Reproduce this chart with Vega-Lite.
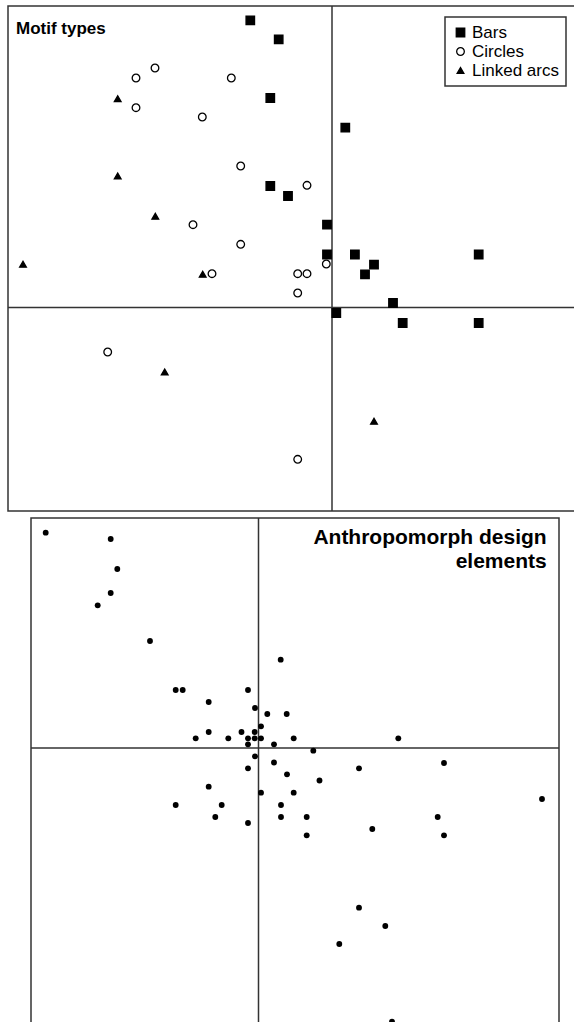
{
  "$schema": "https://vega.github.io/schema/vega-lite/v6.json",
  "padding": {"left": 6, "top": 4, "right": 0, "bottom": 0},
  "background": "white",
  "config": {
    "view": {"stroke": "#333", "strokeWidth": 1.5},
    "font": "Liberation Sans",
    "legend": {
      "orient": "top-right",
      "offset": 11,
      "strokeColor": "#333",
      "strokeWidth": 1.5,
      "fillColor": "white",
      "padding": 7,
      "labelFontSize": 17,
      "labelFont": "Liberation Sans",
      "labelColor": "black",
      "labelOffset": 3,
      "rowPadding": 1,
      "symbolStrokeColor": "black",
      "symbolStrokeWidth": 1.3
    }
  },
  "resolve": {"legend": {"shape": "independent", "fill": "independent", "size": "independent", "stroke": "independent"}},
  "vconcat": [
    {
      "width": 569,
      "height": 505,
      "layer": [
        {
          "data": {"values": [{}]},
          "mark": {"type": "rule", "color": "#333", "strokeWidth": 1.5},
          "encoding": {"x": {"datum": 0, "type": "quantitative", "scale": {"domain": [-3.24, 2.45], "nice": false, "zero": false}, "axis": null}}
        },
        {
          "data": {"values": [{}]},
          "mark": {"type": "rule", "color": "#333", "strokeWidth": 1.5},
          "encoding": {"y": {"datum": 0, "type": "quantitative", "scale": {"domain": [-2.035, 3.015], "nice": false, "zero": false}, "axis": null}}
        },
        {
          "data": {"values": [
            {"type": "Bars", "x": -0.817, "y": 2.872},
            {"type": "Bars", "x": -0.533, "y": 2.682},
            {"type": "Bars", "x": -0.617, "y": 2.095},
            {"type": "Bars", "x": 0.133, "y": 1.798},
            {"type": "Bars", "x": -0.617, "y": 1.215},
            {"type": "Bars", "x": -0.44, "y": 1.115},
            {"type": "Bars", "x": -0.05, "y": 0.828},
            {"type": "Bars", "x": -0.05, "y": 0.53},
            {"type": "Bars", "x": 0.229, "y": 0.53},
            {"type": "Bars", "x": 1.467, "y": 0.53},
            {"type": "Bars", "x": 0.42, "y": 0.428},
            {"type": "Bars", "x": 0.33, "y": 0.332},
            {"type": "Bars", "x": 0.61, "y": 0.045},
            {"type": "Bars", "x": 0.043, "y": -0.055},
            {"type": "Bars", "x": 0.707, "y": -0.155},
            {"type": "Bars", "x": 1.467, "y": -0.155},
            {"type": "Circles", "x": -1.77, "y": 2.395},
            {"type": "Circles", "x": -1.96, "y": 2.295},
            {"type": "Circles", "x": -1.007, "y": 2.295},
            {"type": "Circles", "x": -1.96, "y": 1.998},
            {"type": "Circles", "x": -1.297, "y": 1.905},
            {"type": "Circles", "x": -0.913, "y": 1.415},
            {"type": "Circles", "x": -0.25, "y": 1.222},
            {"type": "Circles", "x": -1.39, "y": 0.828},
            {"type": "Circles", "x": -0.913, "y": 0.632},
            {"type": "Circles", "x": -0.057, "y": 0.435},
            {"type": "Circles", "x": -1.2, "y": 0.338},
            {"type": "Circles", "x": -0.343, "y": 0.338},
            {"type": "Circles", "x": -0.25, "y": 0.338},
            {"type": "Circles", "x": -0.343, "y": 0.145},
            {"type": "Circles", "x": -2.243, "y": -0.445},
            {"type": "Circles", "x": -0.343, "y": -1.518},
            {"type": "Linked arcs", "x": -2.143, "y": 2.088},
            {"type": "Linked arcs", "x": -2.143, "y": 1.315},
            {"type": "Linked arcs", "x": -1.767, "y": 0.912},
            {"type": "Linked arcs", "x": -3.09, "y": 0.432},
            {"type": "Linked arcs", "x": -1.293, "y": 0.332},
            {"type": "Linked arcs", "x": -1.673, "y": -0.645},
            {"type": "Linked arcs", "x": 0.42, "y": -1.138}
          ]},
          "mark": {"type": "point", "filled": true, "strokeWidth": 1.3, "opacity": 1},
          "encoding": {
            "x": {"field": "x", "type": "quantitative", "scale": {"domain": [-3.24, 2.45], "nice": false, "zero": false}, "axis": null},
            "y": {"field": "y", "type": "quantitative", "scale": {"domain": [-2.035, 3.015], "nice": false, "zero": false}, "axis": null},
            "shape": {
              "field": "type", "type": "nominal", "title": null,
              "scale": {"domain": ["Bars", "Circles", "Linked arcs"], "range": ["square", "circle", "triangle-up"]},
              "legend": {"orient": "top-right", "offset": 11}
            },
            "fill": {
              "field": "type", "type": "nominal", "title": null,
              "scale": {"domain": ["Bars", "Circles", "Linked arcs"], "range": ["black", "white", "black"]},
              "legend": {"orient": "top-right", "offset": 11}
            },
            "stroke": {
              "field": "type", "type": "nominal", "title": null,
              "scale": {"domain": ["Bars", "Circles", "Linked arcs"], "range": ["black", "black", "black"]},
              "legend": {"orient": "top-right", "offset": 11}
            },
            "size": {
              "field": "type", "type": "nominal", "title": null,
              "scale": {"domain": ["Bars", "Circles", "Linked arcs"], "range": [72, 45, 145]},
              "legend": {"orient": "top-right", "offset": 11}
            }
          }
        },
        {
          "data": {"values": [{"label": "Motif types"}]},
          "mark": {"type": "text", "align": "left", "baseline": "alphabetic", "fontSize": 17, "fontWeight": "bold", "font": "Liberation Sans", "color": "black"},
          "encoding": {
            "x": {"datum": -3.16, "type": "quantitative", "scale": {"domain": [-3.24, 2.45], "nice": false, "zero": false}, "axis": null},
            "y": {"datum": 2.738, "type": "quantitative", "scale": {"domain": [-2.035, 3.015], "nice": false, "zero": false}, "axis": null},
            "text": {"field": "label"}
          }
        }
      ]
    },
    {
      "spacing": 15,
      "hconcat": [
        {
          "width": 5,
          "height": 5,
          "view": {"stroke": null},
          "data": {"values": [{}]},
          "mark": {"type": "point", "opacity": 0},
          "encoding": {}
        },
        {
          "width": 528,
          "height": 513,
          "layer": [
            {
              "data": {"values": [{}]},
              "mark": {"type": "rule", "color": "#333", "strokeWidth": 1.5},
              "encoding": {"x": {"datum": 0, "type": "quantitative", "scale": {"domain": [-2.275, 3.005], "nice": false, "zero": false}, "axis": null}}
            },
            {
              "data": {"values": [{}]},
              "mark": {"type": "rule", "color": "#333", "strokeWidth": 1.5},
              "encoding": {"y": {"datum": 0, "type": "quantitative", "scale": {"domain": [-2.83, 2.3], "nice": false, "zero": false}, "axis": null}}
            },
            {
              "data": {"values": [
                {"x": -2.128, "y": 2.153}, {"x": -1.478, "y": 2.09}, {"x": -1.412, "y": 1.79},
                {"x": -1.478, "y": 1.55}, {"x": -1.608, "y": 1.427}, {"x": -1.085, "y": 1.07},
                {"x": 0.222, "y": 0.883}, {"x": -0.828, "y": 0.58}, {"x": -0.758, "y": 0.58},
                {"x": -0.105, "y": 0.58}, {"x": -0.498, "y": 0.46}, {"x": -0.035, "y": 0.4},
                {"x": 0.088, "y": 0.34}, {"x": 0.282, "y": 0.34}, {"x": 0.025, "y": 0.217},
                {"x": -0.498, "y": 0.16}, {"x": -0.17, "y": 0.16}, {"x": -0.038, "y": 0.16},
                {"x": -0.628, "y": 0.097}, {"x": -0.302, "y": 0.097}, {"x": -0.105, "y": 0.097},
                {"x": -0.038, "y": 0.097}, {"x": 0.025, "y": 0.097}, {"x": 0.352, "y": 0.097},
                {"x": 1.398, "y": 0.097}, {"x": -0.105, "y": 0.037}, {"x": 0.155, "y": 0.037},
                {"x": 0.548, "y": -0.027}, {"x": -0.035, "y": -0.083}, {"x": 0.155, "y": -0.145},
                {"x": -0.105, "y": -0.203}, {"x": 1.005, "y": -0.203}, {"x": 1.855, "y": -0.15},
                {"x": 0.285, "y": -0.263}, {"x": 0.61, "y": -0.325}, {"x": -0.498, "y": -0.387},
                {"x": 0.025, "y": -0.447}, {"x": 0.352, "y": -0.447}, {"x": 2.835, "y": -0.51},
                {"x": -0.828, "y": -0.57}, {"x": -0.368, "y": -0.57}, {"x": 0.225, "y": -0.57},
                {"x": -0.432, "y": -0.69}, {"x": 0.225, "y": -0.69}, {"x": 0.482, "y": -0.69},
                {"x": 1.792, "y": -0.69}, {"x": -0.105, "y": -0.75}, {"x": 1.138, "y": -0.81},
                {"x": 0.482, "y": -0.873}, {"x": 1.855, "y": -0.873}, {"x": 1.005, "y": -1.597},
                {"x": 1.268, "y": -1.78}, {"x": 0.808, "y": -1.96}, {"x": 1.335, "y": -2.737}
              ]},
              "mark": {"type": "circle", "color": "black", "size": 34, "opacity": 1},
              "encoding": {
                "x": {"field": "x", "type": "quantitative", "scale": {"domain": [-2.275, 3.005], "nice": false, "zero": false}, "axis": null},
                "y": {"field": "y", "type": "quantitative", "scale": {"domain": [-2.83, 2.3], "nice": false, "zero": false}, "axis": null}
              }
            },
            {
              "data": {"values": [{"label": ["Anthropomorph design", "elements"]}]},
              "mark": {"type": "text", "align": "right", "baseline": "alphabetic", "fontSize": 21, "fontWeight": "bold", "font": "Liberation Sans", "color": "black", "lineHeight": 24},
              "encoding": {
                "x": {"datum": 2.882, "type": "quantitative", "scale": {"domain": [-2.275, 3.005], "nice": false, "zero": false}, "axis": null},
                "y": {"datum": 2.043, "type": "quantitative", "scale": {"domain": [-2.83, 2.3], "nice": false, "zero": false}, "axis": null},
                "text": {"field": "label"}
              }
            }
          ]
        }
      ]
    }
  ],
  "spacing": 3
}
